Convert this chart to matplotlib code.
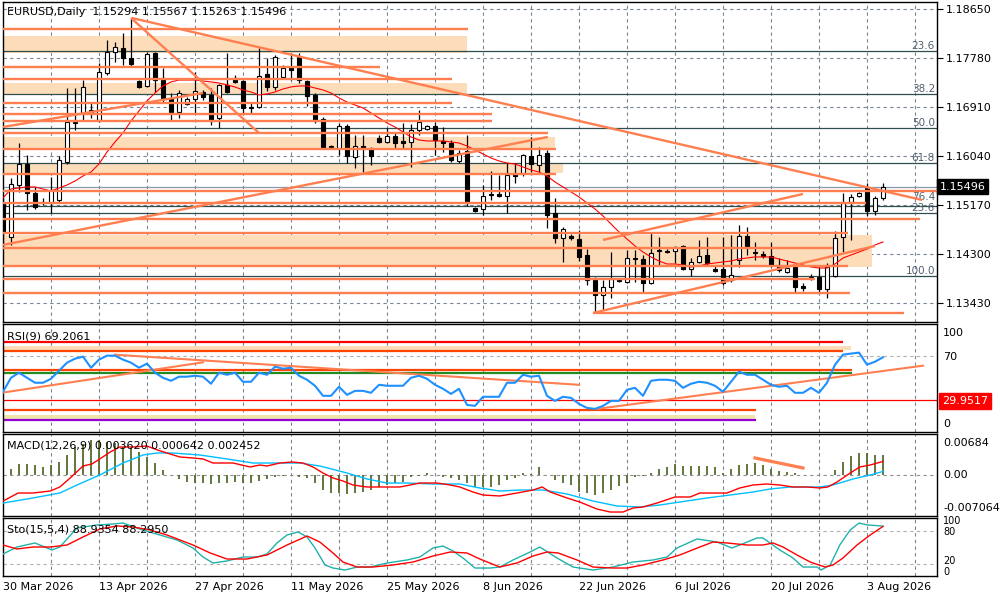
import matplotlib
matplotlib.use('Agg')
import matplotlib.pyplot as plt
import matplotlib.transforms as mtrans
import numpy as np

plt.rcParams['font.family'] = ['DejaVu Sans']

# ---------------- data (daily EURUSD candles, bar index 0 = 30 Mar 2026) ----------------
opens = [1.15205, 1.14601, 1.15524, 1.15897, 1.15383, 1.15205, 1.15205, 1.15258, 1.15933, 1.16643,
         1.16803, 1.16803, 1.16679, 1.17514, 1.17886, 1.17958, 1.17780, 1.17371, 1.17283, 1.17869,
         1.17389, 1.17070, 1.16821, 1.16963, 1.17052, 1.17176, 1.17123, 1.16714, 1.17300, 1.17425,
         1.17371, 1.16910, 1.16910, 1.17496, 1.17265, 1.17442, 1.17620, 1.17798, 1.17371, 1.17123,
         1.16697, 1.16199, 1.16182, 1.16572, 1.16022, 1.16217, 1.16164, 1.16359, 1.16288, 1.16395,
         1.16306, 1.16288, 1.16501, 1.16519, 1.16572, 1.16306, 1.16270, 1.15951, 1.16128, 1.15116,
         1.15098, 1.15348, 1.15365, 1.15330, 1.15720, 1.15737, 1.16039, 1.15880, 1.16093, 1.15027,
         1.14583, 1.14619, 1.14565, 1.14281, 1.13837, 1.13571, 1.13713, 1.13837, 1.13802, 1.14228,
         1.14210, 1.13784, 1.14352, 1.14352, 1.14352, 1.14441, 1.14033, 1.14157, 1.14281, 1.14033,
         1.14033, 1.13837, 1.14192, 1.14619, 1.14334, 1.14299, 1.14263, 1.14104, 1.13979, 1.14068,
         1.13731, 1.13890, 1.13890, 1.13677, 1.13908, 1.14601, 1.15222, 1.15330, 1.15471, 1.15063,
         1.15294]
highs = [1.15294, 1.15649, 1.16270, 1.16057, 1.15489, 1.15294, 1.15666, 1.16039, 1.17247, 1.17247,
         1.17389, 1.16981, 1.17691, 1.18100, 1.18064, 1.18224, 1.18490, 1.17389, 1.17886, 1.17886,
         1.17602, 1.17158, 1.17212, 1.17087, 1.17531, 1.17212, 1.17247, 1.17318, 1.17869, 1.17478,
         1.17389, 1.16998, 1.17958, 1.17780, 1.17833, 1.17656, 1.17869, 1.17869, 1.17389, 1.17158,
         1.16732, 1.16235, 1.16625, 1.16608, 1.16412, 1.16412, 1.16199, 1.16412, 1.16537, 1.16466,
         1.16625, 1.16608, 1.16856, 1.16590, 1.16643, 1.16554, 1.16324, 1.16146, 1.16412, 1.15134,
         1.15524, 1.15773, 1.15702, 1.15915, 1.15915, 1.16075, 1.16377, 1.16199, 1.16146, 1.15294,
         1.14778, 1.14654, 1.14725, 1.14388, 1.13890, 1.13837, 1.14334, 1.13873, 1.14370, 1.14370,
         1.14281, 1.14690, 1.14601, 1.14388, 1.14441, 1.14459, 1.14228, 1.14548, 1.14601, 1.14086,
         1.14601, 1.14636, 1.14814, 1.14778, 1.14512, 1.14352, 1.14512, 1.14228, 1.14192, 1.14104,
         1.13784, 1.13944, 1.14068, 1.14139, 1.14707, 1.15383, 1.15365, 1.15400, 1.15560, 1.15330,
         1.15567]
lows = [1.14459, 1.14459, 1.15401, 1.15080, 1.15098, 1.15169, 1.15027, 1.15222, 1.15897, 1.16501,
        1.16679, 1.16714, 1.16643, 1.17478, 1.17709, 1.17656, 1.17638, 1.17247, 1.17265, 1.17176,
        1.16998, 1.16679, 1.16714, 1.16945, 1.16803, 1.17034, 1.16590, 1.16537, 1.17158, 1.17336,
        1.16803, 1.16803, 1.16892, 1.17194, 1.17212, 1.17425, 1.17389, 1.17336, 1.16927, 1.16625,
        1.16164, 1.16182, 1.16057, 1.15915, 1.15826, 1.15755, 1.15880, 1.16270, 1.16270, 1.16182,
        1.16182, 1.15844, 1.16412, 1.16501, 1.16057, 1.16110, 1.15933, 1.15915, 1.15151, 1.15045,
        1.14992, 1.15258, 1.15312, 1.15027, 1.15560, 1.15684, 1.15755, 1.15755, 1.14761, 1.14494,
        1.14157, 1.14548, 1.14174, 1.13748, 1.13269, 1.13304, 1.13518, 1.13802, 1.13784, 1.13802,
        1.13624, 1.13766, 1.14104, 1.14317, 1.14139, 1.14015, 1.13908, 1.14139, 1.14104, 1.13979,
        1.13748, 1.13802, 1.14068, 1.14281, 1.14192, 1.14228, 1.14068, 1.13979, 1.13962, 1.13624,
        1.13642, 1.13837, 1.13624, 1.13518, 1.13890, 1.14334, 1.14548, 1.15312, 1.14974, 1.14992,
        1.15263]
closes = [1.14690, 1.15542, 1.15897, 1.15383, 1.15134, 1.15222, 1.15436, 1.15968, 1.16643, 1.16625,
          1.17265, 1.16856, 1.17531, 1.17886, 1.17975, 1.17780, 1.17673, 1.17265, 1.17851, 1.17389,
          1.17070, 1.16821, 1.17158, 1.17052, 1.17194, 1.17087, 1.16679, 1.17300, 1.17176, 1.17354,
          1.16892, 1.16900, 1.17460, 1.17265, 1.17798, 1.17602, 1.17567, 1.17389, 1.17105, 1.16679,
          1.16199, 1.16217, 1.16572, 1.16039, 1.16217, 1.16182, 1.16039, 1.16288, 1.16395, 1.16270,
          1.16270, 1.16501, 1.16643, 1.16572, 1.16324, 1.16270, 1.15968, 1.16093, 1.15205, 1.15063,
          1.15330, 1.15365, 1.15330, 1.15702, 1.15684, 1.16057, 1.15897, 1.16057, 1.14992, 1.14583,
          1.14743, 1.14583, 1.14246, 1.13837, 1.13571, 1.13713, 1.13855, 1.13819, 1.14228, 1.14210,
          1.13784, 1.14317, 1.14370, 1.14340, 1.14423, 1.14033, 1.14157, 1.14263, 1.14139, 1.13997,
          1.13784, 1.13926, 1.14619, 1.14441, 1.14317, 1.14263, 1.14104, 1.14015, 1.14050, 1.13713,
          1.13695, 1.13855, 1.13677, 1.14068, 1.14583, 1.15205, 1.15312, 1.15380, 1.15063, 1.15294,
          1.15496]
ma_line = [1.15294, 1.15453, 1.15471, 1.15489, 1.15489, 1.15453, 1.15418, 1.15471, 1.15524, 1.15595,
           1.15684, 1.15755, 1.15897, 1.16110, 1.16288, 1.16448, 1.16661, 1.16839, 1.17016, 1.17158,
           1.17283, 1.17354, 1.17389, 1.17389, 1.17389, 1.17371, 1.17354, 1.17336, 1.17300, 1.17265,
           1.17212, 1.17176, 1.17123, 1.17141, 1.17176, 1.17229, 1.17265, 1.17283, 1.17283, 1.17247,
           1.17212, 1.17158, 1.17070, 1.16998, 1.16945, 1.16892, 1.16803, 1.16714, 1.16625, 1.16554,
           1.16466, 1.16377, 1.16324, 1.16306, 1.16306, 1.16306, 1.16288, 1.16270, 1.16217, 1.16146,
           1.16075, 1.16004, 1.15951, 1.15915, 1.15897, 1.15844, 1.15791, 1.15755, 1.15684, 1.15578,
           1.15489, 1.15401, 1.15312, 1.15205, 1.15098, 1.14974, 1.14832, 1.14690, 1.14565, 1.14441,
           1.14334, 1.14246, 1.14174, 1.14121, 1.14121, 1.14104, 1.14068, 1.14086, 1.14121, 1.14139,
           1.14157, 1.14174, 1.14210, 1.14228, 1.14246, 1.14246, 1.14246, 1.14210, 1.14174, 1.14139,
           1.14104, 1.14068, 1.14050, 1.14050, 1.14121, 1.14228, 1.14281, 1.14334, 1.14388, 1.14459,
           1.14512]

date_labels = ['30 Mar 2026', '13 Apr 2026', '27 Apr 2026', '11 May 2026', '25 May 2026',
               '8 Jun 2026', '22 Jun 2026', '6 Jul 2026', '20 Jul 2026', '3 Aug 2026']
date_label_bars = [0, 12, 24, 36, 48, 60, 72, 84, 96, 108]
price_ticks = [1.18650, 1.17780, 1.16910, 1.16040, 1.15170, 1.14300, 1.13430]
last_price = 1.15496

# horizontal objects on the price chart: (price, start bar, end bar)
orange_levels = [1.18295, 1.17620, 1.17407, 1.16981, 1.16785, 1.16661, 1.16448, 1.16164, 1.15720,
                 1.15418, 1.15205, 1.14921, 1.14672, 1.14406, 1.14086, 1.13855, 1.13606, 1.13251]
orange_starts = [0, 0, 0, 0, 0, 0, 0, 0, 0, 0, 0, 0, 0, 0, 0, 0, 0, 73.75]
orange_ends = [58.1, 47.1, 56.1, 56.1, 61.1, 61.1, 68.1, 69.1, 69.1,
               116.75, 107.9, 114.6, 105.6, 103.75, 105.6, 101.5, 105.9, 112.6]
band_lo = [1.17869, 1.17141, 1.16182, 1.15737, 1.14068]
band_hi = [1.18171, 1.17336, 1.16377, 1.15897, 1.14636]
band_end = [58.0, 58.0, 69.0, 70.0, 108.6]
fib_prices = [1.17904, 1.17141, 1.16537, 1.15915, 1.15151, 1.15027, 1.13908]
fib_labels = ['23.6', '38.2', '50.0', '61.8', '76.4', '23.6', '100.0']
# trend lines: (bar0, price0, bar1, price1)
trend_lines = [(16.0, 1.18490, 32.0, 1.16448),
               (16.1, 1.18490, 114.9, 1.15258),
               (0.0, 1.14459, 68.1, 1.16377),
               (0.0, 1.16554, 25.0, 1.17158),
               (75.0, 1.14548, 100.0, 1.15365),
               (73.75, 1.13251, 109.0, 1.14441)]

# RSI(9)
rsi = [37.2, 50.2, 54.9, 50.2, 45.6, 45.6, 49.3, 56.7, 64.2, 67.9,
       69.8, 59.5, 67.0, 70.7, 70.7, 67.0, 64.2, 59.5, 63.3, 54.9,
       50.2, 47.4, 51.2, 51.2, 52.1, 51.2, 44.7, 54.9, 53.0, 54.9,
       46.5, 46.5, 54.9, 53.0, 60.5, 58.6, 59.5, 52.1, 48.4, 42.8,
       33.5, 33.5, 41.9, 34.4, 38.1, 38.1, 36.3, 43.7, 42.8, 42.8,
       42.8, 50.2, 52.1, 49.3, 43.7, 40.0, 35.3, 40.0, 25.1, 24.2,
       32.6, 32.6, 32.6, 45.6, 45.6, 53.0, 51.2, 52.1, 33.5, 28.8,
       32.6, 31.6, 26.0, 22.3, 21.4, 24.2, 28.8, 28.8, 39.1, 40.9,
       33.5, 47.4, 48.4, 48.4, 47.4, 40.9, 44.7, 46.5, 45.6, 42.8,
       37.2, 46.5, 55.8, 53.0, 53.0, 48.4, 43.7, 41.9, 42.8, 36.3,
       36.3, 40.9, 36.3, 45.6, 62.3, 71.6, 72.6, 73.5, 62.3, 65.1,
       69.2061]
rsi_last = 69.2061
rsi_mark = 29.9517
rsi_levels = [83.7, 75.3, 57.7, 54.9, 29.9517, 20.5, 11.2]
rsi_level_colors = ['#FF0000', '#FF4500', '#FF4500', '#228B22', '#FF0000', '#FF4500', '#9400D3']
rsi_level_widths = [1.6, 1.6, 1.6, 1.6, 0.9, 1.6, 1.6]
rsi_level_ends = [105.0, 105.0, 106.1, 106.1, 116.75, 94.1, 94.1]
rsi_bands = [(75.6, 79.3, 106.0, '#FDDCB9'), (12.1, 15.8, 94.0, '#EEE6A8')]
rsi_trend = [(0.0, 36.5, 25.0, 64.5), (14.0, 71.6, 72.0, 43.7), (74.25, 21.4, 115.0, 61.4)]

# MACD(12,26,9)  (values in units of 1e-3)
macd_hist = [0.72, 1.09, 1.99, 1.99, 1.81, 1.45, 1.81, 2.35, 3.62, 5.07,
             5.61, 6.34, 6.34, 5.97, 5.79, 5.07, 4.89, 4.16, 3.26, 2.17,
             0.91, 0.05, -0.72, -1.27, -1.45, -1.45, -1.63, -1.45, -1.45, -1.27,
             -1.45, -1.45, -1.09, -0.72, -0.36, -0.18, 0.05, -0.36, -0.54, -1.45,
             -2.72, -3.26, -3.26, -3.44, -3.26, -3.08, -2.72, -2.17, -1.81, -1.45,
             -1.27, -0.36, -0.18, 0.36, -0.05, -0.36, -0.54, -0.91, -1.45, -2.17,
             -2.17, -2.17, -1.81, -0.91, -0.54, 0.36, 0.18, 1.45, -0.05, -0.91,
             -1.45, -1.81, -3.08, -3.26, -3.62, -3.26, -2.72, -1.99, -1.45, -0.36,
             -0.18, 0.36, 1.09, 1.45, 1.99, 1.63, 1.63, 1.63, 1.63, 1.45,
             0.36, 1.09, 1.81, 1.99, 2.17, 1.81, 1.09, 0.72, 0.54, 0.36,
             0.05, 0.05, 0.05, 0.05, 0.91, 2.35, 3.44, 3.98, 3.98, 3.62,
             3.620]
macd_red_x = [0, 1.9, 3.75, 5.9, 7.1, 8.4, 10, 11.1, 12.1, 13.4, 14.6, 16.3, 18, 19.3, 20.5, 22.1,
              23.75, 25, 26.25, 28.75, 30.9, 32.1, 33, 34.6, 36.1, 37.5, 38.75, 40, 41.25, 42.5,
              43.75, 45.5, 47.5, 49.6, 50.9, 52.1, 54.25, 55.9, 57.1, 58.75, 60, 62.1, 64.25, 66.25,
              67.4, 68.4, 70.5, 72.1, 74.25, 75.9, 77.5, 78.75, 80, 81.75, 84, 85.9, 87.1, 90.5,
              92.1, 93.75, 95.5, 97.1, 98.75, 100.5, 102.1, 103.1, 104.25, 105.9, 107.1, 108.4, 110]
macd_red_y = [-4.71, -3.26, -3.26, -2.90, -2.17, -0.54, 1.63, 1.99, 2.90, 4.16, 5.07, 5.07, 5.25, 4.53,
              3.98, 3.26, 3.08, 2.90, 2.17, 2.17, 1.45, 1.81, 1.63, 2.17, 2.35, 2.17, 1.45, 0.36, -0.54,
              -1.09, -1.81, -2.17, -2.17, -2.17, -1.81, -1.45, -1.45, -1.81, -2.17, -3.08, -3.62, -3.80,
              -3.26, -2.72, -2.17, -3.08, -4.16, -4.89, -6.16, -6.70, -6.70, -5.97, -5.79, -5.07, -3.98,
              -3.98, -3.26, -3.26, -2.35, -1.81, -1.63, -1.81, -2.17, -2.17, -2.35, -2.17, -1.27, 0.36,
              1.45, 1.81, 2.452]
macd_blue_x = [0, 3.75, 7.1, 9.25, 12.1, 15, 17.5, 19.25, 21.25, 24.6, 28, 31.25, 34.6, 37.1, 39.6,
               43, 45.5, 48, 50.5, 53.75, 57.1, 59.6, 62.1, 64.6, 67.5, 70.5, 73.75, 76.75, 79.6,
               82.1, 84.6, 88, 90.9, 93.75, 95.9, 98.4, 102.1, 103.75, 106.25, 108.4, 110]
macd_blue_y = [-5.07, -4.16, -3.26, -1.81, 0.0, 2.17, 3.62, 3.98, 3.98, 3.62, 2.90, 2.17, 2.17, 2.17,
               1.63, 0.36, -0.72, -1.45, -1.45, -1.63, -1.63, -2.35, -2.90, -2.72, -2.72, -3.44,
               -4.71, -5.61, -5.79, -5.43, -4.89, -4.16, -3.62, -3.08, -2.53, -2.17, -2.17, -1.81,
               -0.72, 0.0, 0.642]
macd_trend = (94.0, 3.08, 100.0, 1.27)

# Stochastic(15,5,4)
sto_main_x = [0, 1.75, 4, 6.1, 7.1, 9.25, 11.75, 13.75, 15, 17.1, 18.75, 21.75, 23.75, 25, 26.25, 28,
              30, 31.75, 33, 34.25, 35.5, 36.9, 38, 39, 40.25, 41.25, 42.75, 44.25, 45.9, 48, 50.5,
              52.1, 53.75, 55, 56.25, 57.5, 59, 60.9, 62.1, 63.75, 65.9, 67.1, 69.25, 71.25, 73.75,
              76.25, 78.75, 81.25, 83, 84.25, 86.75, 89.25, 91.1, 92.1, 94.25, 95, 97.1, 98.75, 100,
              101.75, 102.25, 103.4, 104.6, 105.9, 107, 108.1, 110]
sto_main_y = [38.2, 50.9, 58.2, 45.5, 50.9, 85.5, 90.9, 92.7, 94.5, 83.6, 76.4, 63.6, 49.1, 32.7, 21.8,
              25.5, 32.7, 32.7, 38.2, 58.2, 72.7, 78.2, 69.1, 49.1, 18.2, 12.7, 9.1, 14.5, 14.5, 21.8,
              27.3, 32.7, 49.1, 52.7, 43.6, 30.9, 12.7, 12.7, 14.5, 27.3, 41.8, 50.9, 30.9, 14.5, 9.1,
              14.5, 23.6, 27.3, 32.7, 49.1, 65.5, 60.0, 49.1, 54.5, 67.3, 67.3, 45.5, 30.9, 14.5, 14.5,
              9.1, 18.2, 54.5, 81.8, 94.5, 90.9, 88.9354]
sto_sig_x = [0, 1.75, 3.75, 5.9, 8, 10, 12.1, 14.25, 16.25, 18.4, 20.5, 23.75, 25.9, 28, 30.5, 33,
             35.5, 38, 39.6, 41.25, 42.5, 44.25, 46.25, 48.75, 51.25, 53.75, 55.9, 58, 59.6, 62.1,
             64.25, 66.25, 68, 69.4, 71.75, 73.75, 76.25, 78, 80, 82.5, 84.6, 87.1, 88.75, 90.5, 93,
             95, 96.25, 97.5, 99.25, 100.9, 102.75, 103.75, 105, 106.75, 108.4, 110]
sto_sig_y = [54.5, 47.3, 50.9, 50.9, 54.5, 69.1, 83.6, 89.1, 87.3, 81.8, 72.7, 54.5, 40.0, 29.1, 29.1,
             36.4, 54.5, 70.9, 60.0, 40.0, 23.6, 14.5, 14.5, 18.2, 23.6, 34.5, 41.8, 40.0, 29.1, 14.5,
             21.8, 34.5, 41.8, 40.0, 27.3, 14.5, 12.7, 12.7, 18.2, 27.3, 36.4, 50.9, 60.0, 58.2, 54.5,
             54.5, 58.2, 50.9, 36.4, 23.6, 14.5, 18.2, 30.9, 54.5, 72.7, 88.295]

# ---------------- figure ----------------
W, H = 1000, 600
fig = plt.figure(figsize=(10, 6), dpi=100)
fig.patch.set_facecolor('white')

def add_panel(y0, y1):
    a = fig.add_axes([3 / W, 1 - y1 / H, 934 / W, (y1 - y0) / H])
    a.set_xlim(0, 116.75)
    a.set_xticks([])
    for s in a.spines.values():
        s.set_color('black')
        s.set_linewidth(1.0)
    return a

GRID = '#7a8595'
DASH = (0, (3, 3))
CORAL = '#FF7F50'
PEACH = '#FDDCB9'

ax = add_panel(2, 322)
ax_rsi = add_panel(324, 432)
ax_macd = add_panel(434, 516)
ax_sto = add_panel(518, 576)

n = len(opens)
idx = np.arange(n)
O = np.array(opens); Hh = np.array(highs); L = np.array(lows); C = np.array(closes)

for a in (ax, ax_rsi, ax_macd, ax_sto):
    for b in range(6, 117, 6):
        a.axvline(b, color=GRID, lw=0.8, ls=DASH, zorder=0.5)

# ---- main price panel ----
ax.set_ylim(1.13091, 1.18774)
for p in price_ticks:
    ax.axhline(p, color=GRID, lw=0.8, ls=DASH, zorder=0.5)

for lo, hi, e in zip(band_lo, band_hi, band_end):
    ax.fill_between([0, e], lo, hi, color=PEACH, lw=0, zorder=1)

for p in fib_prices:
    ax.axhline(p, color='#2F4F4F', lw=0.9, zorder=2)
for k, (p, t) in enumerate(zip(fib_prices, fib_labels)):
    # the 76.4 label sits just above the close 23.6 label in the reference; lift it a touch
    lift = 0.00075 if k == 4 else 0.00004
    ax.text(116.5, p + lift, t, ha='right', va='bottom', fontsize=7.5, color='#53606e', zorder=3)

ax.axhline(last_price, color='#8899aa', lw=0.9, zorder=2)

ax.vlines(idx, L, Hh, color='black', lw=0.9, zorder=5)
up = C >= O
ax.bar(idx, np.abs(C - O), bottom=np.minimum(O, C), width=0.62,
       color=np.where(up, 'white', 'black'), edgecolor='black', lw=0.8, zorder=6)

ax.plot(idx, ma_line, color='#FF0000', lw=0.8, zorder=6.5)

for p, s, e in zip(orange_levels, orange_starts, orange_ends):
    ax.hlines(p, s, e, color=CORAL, lw=1.7, zorder=7)
for x0, y0, x1, y1 in trend_lines:
    ax.plot([x0, x1], [y0, y1], color=CORAL, lw=1.7, zorder=7, solid_capstyle='butt')

ax.yaxis.tick_right()
ax.set_yticks(price_ticks)
ax.set_yticklabels(['%.5f' % p for p in price_ticks])
ax.tick_params(axis='y', direction='out', length=4, width=0.8, pad=2, labelsize=8, colors='black')
blend = mtrans.blended_transform_factory(ax.transAxes, ax.transData)
ax.text(1.003, last_price, '1.15496', transform=blend, ha='left', va='center', fontsize=8,
        color='white', bbox=dict(boxstyle='square,pad=0.25', fc='black', ec='black'), zorder=10,
        clip_on=False)

# ---- RSI ----
ax_rsi.set_ylim(0, 100)
ax_rsi.set_yticks([])
ax_rsi.axhline(70, color='#b0b0b0', lw=0.8, ls=DASH, zorder=0.5)
for lo, hi, e, col in rsi_bands:
    ax_rsi.fill_between([0, e], lo, hi, color=col, lw=0, zorder=1)
for v, col, w, e in zip(rsi_levels, rsi_level_colors, rsi_level_widths, rsi_level_ends):
    ax_rsi.hlines(v, 0, e, color=col, lw=w, zorder=2)
for x0, y0, x1, y1 in rsi_trend:
    ax_rsi.plot([x0, x1], [y0, y1], color=CORAL, lw=1.5, zorder=3)
ax_rsi.plot(idx, rsi, color='#1E90FF', lw=1.5, zorder=4)

# ---- MACD ----
ax_macd.set_ylim(-7.42, 7.42)
ax_macd.set_yticks([])
ax_macd.axhline(0, color='#909090', lw=0.8, ls=DASH, zorder=0.5)
ax_macd.vlines(idx, 0, macd_hist, color='#556B2F', lw=1.3, zorder=2)
ax_macd.plot(macd_blue_x, macd_blue_y, color='#00BFFF', lw=1.0, zorder=3)
ax_macd.plot(macd_red_x, macd_red_y, color='#FF0000', lw=1.0, zorder=3)
ax_macd.plot([macd_trend[0], macd_trend[2]], [macd_trend[1], macd_trend[3]], color=CORAL, lw=2.3, zorder=4)

# ---- Stochastic ----
ax_sto.set_ylim(-1.8, 103.6)
ax_sto.set_yticks([])
for v in (80, 20):
    ax_sto.axhline(v, color='#b0b0b0', lw=0.8, ls=DASH, zorder=0.5)
ax_sto.plot(sto_main_x, sto_main_y, color='#20B2AA', lw=1.0, zorder=3)
ax_sto.plot(sto_sig_x, sto_sig_y, color='#FF0000', lw=1.0, zorder=3)

# ---- texts ----
def ftxt(x, y, s, **kw):
    kw.setdefault('fontsize', 8)
    kw.setdefault('va', 'center')
    kw.setdefault('ha', 'left')
    fig.text(x / W, 1 - y / H, s, **kw)

ftxt(7, 12, 'EURUSD,Daily  1.15294 1.15567 1.15263 1.15496')
ftxt(7, 336, 'RSI(9) %.4f' % rsi_last)
ftxt(7, 445, 'MACD(12,26,9) 0.003620 0.000642 0.002452')
ftxt(7, 529, 'Sto(15,5,4) %.4f %.4f' % (sto_main_y[-1], sto_sig_y[-1]))

# indicator scale labels
ftxt(943, 333, '100')
ftxt(943, 357, '70')
ftxt(943, 424, '0')
ftxt(942, 401, '29.9517', color='white',
     bbox=dict(boxstyle='square,pad=0.25', fc='#FF0000', ec='#FF0000'))
ftxt(943, 443, '0.00684')
ftxt(943, 475, '0.00')
ftxt(943, 508, '-0.007064')
ftxt(943, 521, '100', fontsize=7)
ftxt(943, 532, '80', fontsize=7)
ftxt(943, 561, '20', fontsize=7)
ftxt(943, 572, '0', fontsize=7)

for b, lab in zip(date_label_bars, date_labels):
    ftxt(3 + 8 * b, 587, lab)

fig.savefig('out.png', dpi=100, facecolor='white')
